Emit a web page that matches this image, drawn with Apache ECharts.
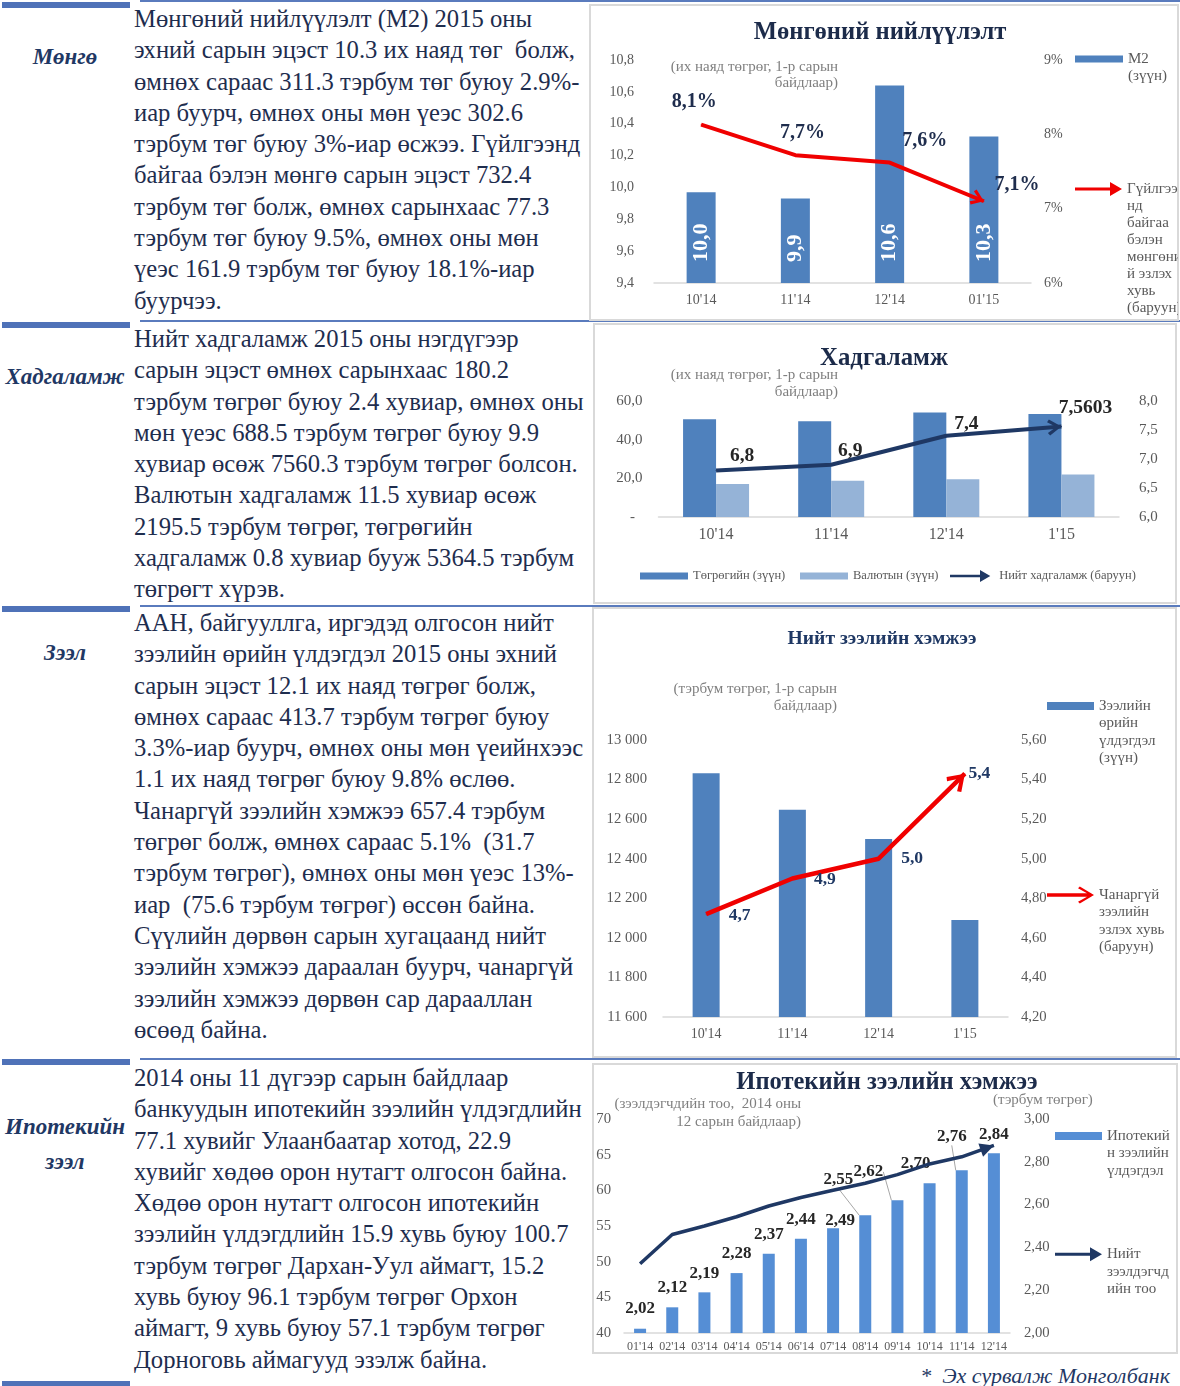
<!DOCTYPE html>
<html>
<head>
<meta charset="utf-8">
<title>Мөнгө, хадгаламж, зээл</title>
<script src="https://cdn.jsdelivr.net/npm/echarts/dist/echarts.min.js"></script>
<style>
  html, body { margin: 0; padding: 0; background: #fff; }
  body { position: relative; width: 1180px; height: 1386px; overflow: hidden;
         font-family: "Liberation Serif", "Times New Roman", serif; }
  .thick { position: absolute; left: 2px; width: 128px; height: 6px; background: #4f72b8; }
  .thin { position: absolute; left: 140px; width: 1040px; height: 2px; background: #5a7bbd; }
  .topic { position: absolute; left: 0; width: 130px; text-align: center; font-weight: bold;
           font-style: italic; font-size: 23px; line-height: 35px; color: #1f3864; white-space: pre; }
  .para { position: absolute; left: 134px; font-size: 24.65px; line-height: 31.3px; color: #1e2d4e; white-space: pre; }
  .frame { position: absolute; box-sizing: border-box; border: 2px solid #d9d9d9; }
  .chart { position: absolute; }
  .source { position: absolute; right: 10px; top: 1362px; font-style: italic; font-size: 22px;
            line-height: 28px; color: #1f3864; white-space: pre; }
</style>
</head>
<body>
<div class="thin" style="top:0px"></div>
<div class="thin" style="top:320px"></div>
<div class="thin" style="top:605px"></div>
<div class="thin" style="top:1058px"></div>
<div class="thick" style="top:2px"></div>
<div class="thick" style="top:322px"></div>
<div class="thick" style="top:606px"></div>
<div class="thick" style="top:1059px"></div>
<div class="thick" style="top:1381px"></div>

<div class="topic" style="top:39px">Мөнгө</div>
<div class="topic" style="top:359px">Хадгаламж</div>
<div class="topic" style="top:635px">Зээл</div>
<div class="topic" style="top:1109px">Ипотекийн
зээл</div>

<div class="para" style="top:3px">Мөнгөний нийлүүлэлт (М2) 2015 оны
эхний сарын эцэст 10.3 их наяд төг  болж,
өмнөх сараас 311.3 тэрбум төг буюу 2.9%-
иар буурч, өмнөх оны мөн үеэс 302.6
тэрбум төг буюу 3%-иар өсжээ. Гүйлгээнд
байгаа бэлэн мөнгө сарын эцэст 732.4
тэрбум төг болж, өмнөх сарынхаас 77.3
тэрбум төг буюу 9.5%, өмнөх оны мөн
үеэс 161.9 тэрбум төг буюу 18.1%-иар
буурчээ.</div>

<div class="para" style="top:323px">Нийт хадгаламж 2015 оны нэгдүгээр
сарын эцэст өмнөх сарынхаас 180.2
тэрбум төгрөг буюу 2.4 хувиар, өмнөх оны
мөн үеэс 688.5 тэрбум төгрөг буюу 9.9
хувиар өсөж 7560.3 тэрбум төгрөг болсон.
Валютын хадгаламж 11.5 хувиар өсөж
2195.5 тэрбум төгрөг, төгрөгийн
хадгаламж 0.8 хувиар бууж 5364.5 тэрбум
төгрөгт хүрэв.</div>

<div class="para" style="top:607px">ААН, байгууллга, иргэдэд олгосон нийт
зээлийн өрийн үлдэгдэл 2015 оны эхний
сарын эцэст 12.1 их наяд төгрөг болж,
өмнөх сараас 413.7 тэрбум төгрөг буюу
3.3%-иар буурч, өмнөх оны мөн үеийнхээс
1.1 их наяд төгрөг буюу 9.8% өслөө.
Чанаргүй зээлийн хэмжээ 657.4 тэрбум
төгрөг болж, өмнөх сараас 5.1%  (31.7
тэрбум төгрөг), өмнөх оны мөн үеэс 13%-
иар  (75.6 тэрбум төгрөг) өссөн байна.
Сүүлийн дөрвөн сарын хугацаанд нийт
зээлийн хэмжээ дараалан буурч, чанаргүй
зээлийн хэмжээ дөрвөн сар дарааллан
өсөөд байна.</div>

<div class="para" style="top:1062px">2014 оны 11 дүгээр сарын байдлаар
банкуудын ипотекийн зээлийн үлдэгдлийн
77.1 хувийг Улаанбаатар хотод, 22.9
хувийг хөдөө орон нутагт олгосон байна.
Хөдөө орон нутагт олгосон ипотекийн
зээлийн үлдэгдлийн 15.9 хувь буюу 100.7
тэрбум төгрөг Дархан-Уул аймагт, 15.2
хувь буюу 96.1 тэрбум төгрөг Орхон
аймагт, 9 хувь буюу 57.1 тэрбум төгрөг
Дорноговь аймагууд эзэлж байна.</div>

<div class="frame" style="left:589px;top:4px;width:590px;height:317px"></div>
<div class="frame" style="left:593px;top:323px;width:584px;height:281px"></div>
<div class="frame" style="left:592px;top:607px;width:585px;height:451px"></div>
<div class="frame" style="left:592px;top:1063px;width:586px;height:291px"></div>

<div id="c1" class="chart" style="left:591px;top:6px;width:587px;height:312px"></div>
<div id="c2" class="chart" style="left:593px;top:325px;width:584px;height:279px"></div>
<div id="c3" class="chart" style="left:592px;top:608px;width:585px;height:448px"></div>
<div id="c4" class="chart" style="left:591px;top:1063px;width:587px;height:293px"></div>

<div class="source">*  Эх сурвалж Монголбанк</div>

<script type="text/javascript">
// ---- data ----
// Мөнгөний нийлүүлэлт
var m2Months = ["10'14", "11'14", "12'14", "01'15"];
var m2Supply = [9.97, 9.93, 10.64, 10.32];          // их наяд төгрөг
var cashShare = [8.13, 7.72, 7.62, 7.1];             // %

// Хадгаламж
var depMonths = ["10'14", "11'14", "12'14", "1'15"];
var depMnt = [50.5, 49.5, 54.0, 53.3];
var depFx = [17.1, 18.8, 19.5, 22.0];
var depTotal = [6.8, 6.9, 7.4, 7.5603];

// Нийт зээл
var loanMonths = ["10'14", "11'14", "12'14", "1'15"];
var loanBalance = [12832, 12647, 12500, 12090];     // тэрбум төгрөг
var nplShare = [4.72, 4.9, 5.0, 5.43];

// Ипотекийн зээл
var mortMonths = ["01'14", "02'14", "03'14", "04'14", "05'14", "06'14",
                  "07'14", "08'14", "09'14", "10'14", "11'14", "12'14"];
var mortBalance = [2.02, 2.12, 2.19, 2.28, 2.37, 2.44, 2.49, 2.55, 2.62, 2.70, 2.76, 2.84];
var mortBorrowers = [49.7, 53.8, 55.0, 56.3, 57.8, 59.0, 60.0, 61.0, 62.2, 63.7, 64.7, 66.3];

// ---- styling ----
var SERIF = '"Liberation Serif", "Times New Roman", serif';
var TITLE = '#1c2b4a';
var NAVY = '#1f3864';
var GRAY = '#595959';
var SUB = '#7f7f7f';
var BLUE = '#4f81bd';
var LIGHT_BLUE = '#95b3d7';
var MORT_BLUE = '#558ed5';
var RED = '#f00000';

var ARROW_PTS = [[0, 5.5], [35, 5.5], [35, 0], [47, 7], [35, 14], [35, 8.5], [0, 8.5]];             // 47 x 14
var OPEN_ARROW_PTS = [[0, 6.8], [40, 6.8], [31, 1.8], [32.8, 0], [47, 8.5], [32.8, 17], [31, 15.2],
                      [40, 10.2], [0, 10.2]];                                                      // 47 x 17
var ARROW_ICON = 'path://M0,5.5 L35,5.5 L35,0 L47,7 L35,14 L35,8.5 L0,8.5 Z';
var OPEN_HEAD = 'path://M50,0 L100,82 L84,96 L50,36 L16,96 L0,82 Z';

var cashLabelShift = [[-7, -23], [7, -22], [35, -22], [33, -16]];
var depLabelShift = [[26, -15], [19, -14], [20, -12], [24, -19]];
var nplLabelShift = [[17, 1], [16, 1], [17, 0], [-2, 0]];
var mortLabelShift = [[0, -6.5], [0, -6], [0, -5.5], [0, -6], [0, -6], [0, -5.5],
                      [7, 6], [-27, -22], [-29, -15], [-14, -6.5], [-10, -20], [0, -5.5]];
var mortLeader = [7, 8, 10];

function comma(v, d) { return v.toFixed(d).replace('.', ','); }

function font(size, color) {
  return { fontFamily: SERIF, fontSize: size, color: color || GRAY };
}

function titleOf(text, x, top, size, color) {
  return { text: text, left: x, top: top, textAlign: 'center', padding: 0,
           textStyle: { fontFamily: SERIF, fontSize: size, fontWeight: 'bold', color: color || TITLE } };
}

function note(text, x, y, align, lh) {
  return { type: 'text', x: x, y: y, silent: true,
           style: { text: text, align: align, verticalAlign: 'top', fontFamily: SERIF,
                    fontSize: 15, lineHeight: lh || 16.5, fill: SUB } };
}

function catAxis(data, size, margin) {
  return { type: 'category', data: data,
           axisLine: { show: true, lineStyle: { color: '#d9d9d9', width: 1.5 } },
           axisTick: { show: false },
           axisLabel: Object.assign(font(size), { margin: margin, interval: 0 }) };
}

function valAxis(min, max, step, margin, fmt, right, size) {
  return { type: 'value', min: min, max: max, interval: step, position: right ? 'right' : 'left',
           splitLine: { show: false }, axisLine: { show: false }, axisTick: { show: false },
           axisLabel: Object.assign(font(size || 14), { margin: margin, formatter: fmt }) };
}

function polyPath(pts, dy) {
  return pts.map(function (p, i) { return (i ? 'L' : 'M') + p[0] + ',' + (p[1] + dy); }).join(' ') + ' Z';
}

// legend icon as tall as the whole wrapped text, with the visible mark beside the first line
function tallIcon(pts, h, lines, lh) {
  var H = lines * lh;
  return 'path://M0,0 L0.01,0 L0,0.01 Z ' + polyPath(pts, lh / 2 - h / 2) +
         ' M0,' + H + ' L0.01,' + H + ' L0,' + (H - 0.01) + ' Z';
}

function rectPts(w, h) { return [[0, 0], [w, 0], [w, h], [0, h]]; }

function sideLegend(name, text, left, mid, pts, w, h, lh) {
  var n = text.split('\n').length;
  return {
    data: [name], selectedMode: false, orient: 'vertical', padding: 0,
    left: left, top: mid - lh / 2,
    icon: tallIcon(pts, h, n, lh), itemWidth: w, itemHeight: n * lh, itemStyle: { borderWidth: 0 },
    formatter: function () { return text; },
    textStyle: { fontFamily: SERIF, fontSize: 15, color: GRAY, lineHeight: lh }
  };
}

function rowLegend(name, left, mid, icon, w, h) {
  return {
    data: [name], selectedMode: false, padding: 0, left: left, top: mid - 7,
    icon: icon, itemWidth: w, itemHeight: h, itemStyle: { borderWidth: 0 },
    textStyle: { fontFamily: SERIF, fontSize: 12.5, color: GRAY, lineHeight: 14 }
  };
}

function grid(l, r, t, b) {
  return { left: l, right: r, top: t, bottom: b, containLabel: false, outerBoundsMode: 'none' };
}

// arrow head on the last segment of a line series, drawn as a rotated scatter symbol
function placeHead(chart, lineIndex, headId, values, size) {
  var last = values.length - 1;
  var f = { seriesIndex: lineIndex };
  var a = chart.convertToPixel(f, [last - 1, values[last - 1]]);
  var b = chart.convertToPixel(f, [last, values[last]]);
  var dx = b[0] - a[0], dy = b[1] - a[1];
  var len = Math.sqrt(dx * dx + dy * dy);
  var rot = Math.atan2(-dy, dx) * 180 / Math.PI - 90;
  chart.setOption({ series: [{ id: headId, data: [{
    value: [last, values[last]], symbolRotate: rot,
    symbolOffset: [-dx / len * size[1] / 2, -dy / len * size[1] / 2]
  }] }] });
}

function headSeries(id, yIndex, symbol, size, color) {
  return { id: id, type: 'scatter', yAxisIndex: yIndex, data: [], symbol: symbol,
           symbolSize: size, silent: true, clip: false, itemStyle: { color: color, opacity: 1 } };
}

// ---- 1. Мөнгөний нийлүүлэлт ----
var chart1 = echarts.init(document.getElementById('c1'));
var head1 = [16, 13];
chart1.setOption({
  animation: false,
  backgroundColor: 'transparent',
  textStyle: { fontFamily: SERIF },
  title: titleOf('Мөнгөний нийлүүлэлт', 289, 13.7, 24.6),
  graphic: [note('(их наяд төгрөг, 1-р сарын\nбайдлаар)', 247, 52.7, 'right', 16.5)],
  legend: [
    sideLegend('M2', 'M2\n(зүүн)', 484, 53, rectPts(48, 7), 48, 7, 17.5),
    sideLegend('cash', 'Гүйлгээ\nнд\nбайгаа\nбэлэн\nмөнгөни\nй эзлэх\nхувь\n(баруун)', 484, 183,
               ARROW_PTS, 47, 14, 17)
  ],
  grid: grid(63, 147, 54, 35),
  xAxis: catAxis(m2Months, 14, 10),
  yAxis: [
    valAxis(9.4, 10.8, 0.2, 20, function (v) { return comma(v, 1); }),
    valAxis(6, 9, 1, 13, function (v) { return v + '%'; }, true)
  ],
  series: [
    { name: 'M2', type: 'bar', data: m2Supply, barWidth: 29, itemStyle: { color: BLUE },
      label: { show: true, position: 'insideBottom', distance: 21, rotate: 90, align: 'left',
               verticalAlign: 'middle', color: '#fff', textBorderWidth: 0, fontFamily: SERIF,
               fontSize: 22, fontWeight: 'bold',
               formatter: function (p) { return comma(p.value, 1); } } },
    { name: 'cash', type: 'line', yAxisIndex: 1, symbol: 'circle', symbolSize: 1,
      data: cashShare.map(function (v, i) { return { value: v, label: { offset: cashLabelShift[i] } }; }),
      lineStyle: { color: RED, width: 4 }, itemStyle: { color: RED },
      label: { show: true, position: 'inside', color: '#1f2d4d', textBorderWidth: 0, fontFamily: SERIF,
               fontSize: 20, fontWeight: 'bold',
               formatter: function (p) { return comma(p.value, 1) + '%'; } } },
    headSeries('head1', 1, OPEN_HEAD, head1, RED)
  ]
});
placeHead(chart1, 1, 'head1', cashShare, head1);

// ---- 2. Хадгаламж ----
var chart2 = echarts.init(document.getElementById('c2'));
var head2 = [16, 14];
chart2.setOption({
  animation: false,
  backgroundColor: 'transparent',
  textStyle: { fontFamily: SERIF },
  title: titleOf('Хадгаламж', 291, 20.6, 24.8),
  graphic: [note('(их наяд төгрөг, 1-р сарын\nбайдлаар)', 245, 41.5, 'right', 17)],
  legend: [
    rowLegend('Төгрөгийн (зүүн)', 47, 251, 'rect', 48, 7),
    rowLegend('Валютын (зүүн)', 207, 251, 'rect', 48, 7),
    rowLegend('Нийт хадгаламж (баруун)', 357, 251, ARROW_ICON, 48, 12)
  ],
  grid: grid(65.5, 58, 76, 87),
  xAxis: catAxis(depMonths, 16, 10),
  yAxis: [
    valAxis(0, 60, 20, 16, function (v) { return v === 0 ? '-  ' : comma(v, 1); }, false, 15),
    valAxis(6, 8, 0.5, 20, function (v) { return comma(v, 1); }, true, 15)
  ],
  series: [
    { name: 'Төгрөгийн (зүүн)', type: 'bar', data: depMnt, barWidth: 33, barGap: '0%',
      itemStyle: { color: BLUE } },
    { name: 'Валютын (зүүн)', type: 'bar', data: depFx, barWidth: 33, barGap: '0%',
      itemStyle: { color: LIGHT_BLUE } },
    { name: 'Нийт хадгаламж (баруун)', type: 'line', yAxisIndex: 1, symbol: 'circle', symbolSize: 1,
      data: depTotal.map(function (v, i) { return { value: v, label: { offset: depLabelShift[i] } }; }),
      lineStyle: { color: NAVY, width: 4 }, itemStyle: { color: NAVY },
      label: { show: true, position: 'inside', color: '#262626', textBorderWidth: 0, fontFamily: SERIF,
               fontSize: 19.5, fontWeight: 'bold',
               formatter: function (p) { return String(p.value).replace('.', ','); } } },
    headSeries('head2', 1, OPEN_HEAD, head2, NAVY)
  ]
});
placeHead(chart2, 2, 'head2', depTotal, head2);

// ---- 3. Нийт зээлийн хэмжээ ----
var chart3 = echarts.init(document.getElementById('c3'));
var head3 = [21, 18];
chart3.setOption({
  animation: false,
  backgroundColor: 'transparent',
  textStyle: { fontFamily: SERIF },
  title: titleOf('Нийт зээлийн хэмжээ', 290, 20.5, 19.6, NAVY),
  graphic: [note('(тэрбум төгрөг, 1-р сарын\nбайдлаар)', 245, 72.5, 'right', 17)],
  legend: [
    sideLegend('loan', 'Зээлийн\nөрийн\nүлдэгдэл\n(зүүн)', 455, 98, rectPts(47, 8), 47, 8, 17.3),
    sideLegend('npl', 'Чанаргүй\nзээлийн\nэзлэх хувь\n(баруун)', 455, 287, OPEN_ARROW_PTS, 47, 17, 17.3)
  ],
  grid: grid(71, 169, 132, 39),
  xAxis: catAxis(loanMonths, 14, 10),
  yAxis: [
    valAxis(11600, 13000, 200, 16, function (v) { return String(v).replace(/\B(?=(\d{3})+(?!\d))/g, ' '); }, false, 14.7),
    valAxis(4.2, 5.6, 0.2, 13, function (v) { return comma(v, 2); }, true, 14.7)
  ],
  series: [
    { name: 'loan', type: 'bar', data: loanBalance, barWidth: 27, itemStyle: { color: BLUE } },
    { name: 'npl', type: 'line', yAxisIndex: 1, symbol: 'circle', symbolSize: 1,
      data: nplShare.map(function (v, i) { return { value: v, label: { offset: nplLabelShift[i] } }; }),
      lineStyle: { color: RED, width: 4.5 }, itemStyle: { color: RED },
      label: { show: true, position: 'right', color: NAVY, textBorderWidth: 0, fontFamily: SERIF,
               fontSize: 17.5, fontWeight: 'bold',
               formatter: function (p) { return comma(p.value, 1); } } },
    headSeries('head3', 1, OPEN_HEAD, head3, RED)
  ]
});
placeHead(chart3, 1, 'head3', nplShare, head3);

// ---- 4. Ипотекийн зээлийн хэмжээ ----
var chart4 = echarts.init(document.getElementById('c4'));
var head4 = [14, 14];
chart4.setOption({
  animation: false,
  backgroundColor: 'transparent',
  textStyle: { fontFamily: SERIF },
  title: titleOf('Ипотекийн зээлийн хэмжээ', 296, 7.5, 24.5),
  graphic: [
    note('(зээлдэгчдийн тоо,  2014 оны\n12 сарын байдлаар)', 210, 32.6, 'right', 17.4),
    note('(тэрбум төгрөг)', 402, 28.7, 'left')
  ],
  legend: [
    sideLegend('mort', 'Ипотекий\nн зээлийн\nүлдэгдэл', 464, 73, rectPts(47, 8), 47, 8, 17.5),
    sideLegend('borrowers', 'Нийт\nзээлдэгчд\nийн тоо', 464, 191.3, ARROW_PTS, 47, 14, 17.5)
  ],
  grid: grid(33, 168, 56, 23),
  xAxis: catAxis(mortMonths, 12, 8),
  yAxis: [
    valAxis(40, 70, 5, 13, function (v) { return String(v); }, false, 14.7),
    valAxis(2, 3, 0.2, 14, function (v) { return comma(v, 2); }, true, 14.7)
  ],
  series: [
    { name: 'mort', type: 'bar', yAxisIndex: 1, barWidth: 12, itemStyle: { color: MORT_BLUE },
      data: mortBalance.map(function (v, i) {
        return { value: v, label: { offset: mortLabelShift[i] },
                 labelLine: { show: mortLeader.indexOf(i) >= 0 } };
      }),
      labelLine: { show: false, lineStyle: { color: '#a6a6a6', width: 1 } },
      label: { show: true, position: 'top', color: '#262626', textBorderWidth: 0, fontFamily: SERIF,
               fontSize: 17, fontWeight: 'bold',
               formatter: function (p) { return comma(p.value, 2); } } },
    { name: 'borrowers', type: 'line', yAxisIndex: 0, symbol: 'none', data: mortBorrowers,
      lineStyle: { color: NAVY, width: 3.5 }, itemStyle: { color: NAVY } },
    headSeries('head4', 0, 'triangle', head4, NAVY)
  ]
});
placeHead(chart4, 1, 'head4', mortBorrowers, head4);
</script>
</body>
</html>
